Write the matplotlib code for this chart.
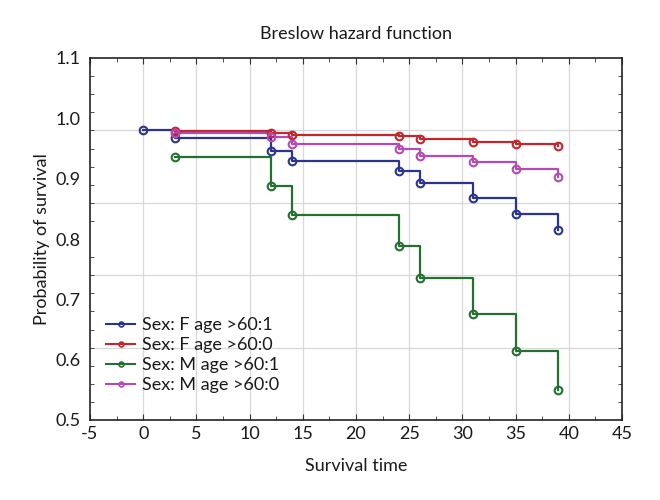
import matplotlib
matplotlib.use("Agg")
import matplotlib.pyplot as plt
import numpy as np
from matplotlib.ticker import MultipleLocator, FixedLocator

plt.rcParams['font.family'] = ['Lato', 'DejaVu Sans']

# Data
labels = ["Sex: F age >60:1", "Sex: F age >60:0", "Sex: M age >60:1", "Sex: M age >60:0"]
colors = ["#2b3590", "#c4262e", "#23702f", "#b44bb4"]

t_f1 = [0, 3, 12, 14, 24, 26, 31, 35, 39]
s_f1 = [0.981, 0.967, 0.946, 0.930, 0.913, 0.892, 0.868, 0.842, 0.815]

t_f0 = [3, 12, 14, 24, 26, 31, 35, 39]
s_f0 = [0.979, 0.975, 0.972, 0.971, 0.966, 0.961, 0.957, 0.954]

t_m1 = [3, 12, 14, 24, 26, 31, 35, 39]
s_m1 = [0.936, 0.888, 0.840, 0.788, 0.736, 0.676, 0.614, 0.550]

t_m0 = [3, 12, 14, 24, 26, 31, 35, 39]
s_m0 = [0.976, 0.969, 0.957, 0.949, 0.938, 0.928, 0.916, 0.902]

series = [(t_f1, s_f1), (t_f0, s_f0), (t_m1, s_m1), (t_m0, s_m0)]

x_ticks = list(range(-5, 50, 5))
y_tick_labels = ["0.5", "0.6", "0.7", "0.8", "0.9", "1.0", "1.1"]
y_tick_pos = [0.5, 0.6, 0.7, 0.8, 0.9, 1.0, 1.1]
grid_y = [0.62, 0.74, 0.86, 0.98]
grid_x = list(range(0, 45, 5))

fig = plt.figure(figsize=(6.6, 5.0), dpi=100)
ax = fig.add_axes([90/660, 1-420/500, (622-90)/660, (420-58)/500])

for (t, s), c, lab in zip(series, colors, labels):
    ax.step(t, s, where='post', color=c, lw=1.6, zorder=3)
    ax.plot(t, s, linestyle='none', marker='o', ms=5.5, mfc='none', mec=c, mew=1.5, zorder=4)
    ax.plot([], [], color=c, lw=1.5, marker='o', ms=3.5, mfc='none', mec=c, mew=1.2, label=lab)

ax.set_xlim(-5, 45)
ax.set_ylim(0.5, 1.1)

for gy in grid_y:
    ax.axhline(gy, color='#d8d8d8', lw=0.9, zorder=1)
for gx in grid_x:
    ax.axvline(gx, color='#d8d8d8', lw=0.9, zorder=1)

ax.set_xticks(x_ticks)
ax.set_xticklabels([str(v) for v in x_ticks])
ax.xaxis.set_minor_locator(MultipleLocator(2.5))
ax.set_yticks(y_tick_pos)
ax.set_yticklabels(y_tick_labels)
ax.yaxis.set_minor_locator(FixedLocator(list(np.linspace(0.5, 1.1, 21))))

ax.tick_params(axis='both', which='both', direction='in', top=True, right=True,
               labelsize=13, color='#333333', labelcolor='#1a1a1a')
ax.tick_params(axis='y', which='major', length=0, pad=7)
ax.tick_params(axis='x', which='major', length=4, pad=4)
ax.tick_params(axis='both', which='minor', length=3)

for sp in ax.spines.values():
    sp.set_linewidth(1.2)
    sp.set_color('#222222')

ax.set_title("Breslow hazard function", fontsize=13, pad=14, color='#1a1a1a')
ax.set_xlabel("Survival time", fontsize=13, labelpad=12, color='#1a1a1a')
ax.set_ylabel("Probability of survival", fontsize=13, labelpad=4, color='#1a1a1a')

leg = ax.legend(loc='lower left', bbox_to_anchor=(0.01, 0.045), frameon=False,
                fontsize=13, handlelength=1.6, handletextpad=0.4, labelspacing=0.22,
                borderaxespad=0.2)
for txt in leg.get_texts():
    txt.set_color('#1a1a1a')

fig.savefig("out.png", dpi=100)
